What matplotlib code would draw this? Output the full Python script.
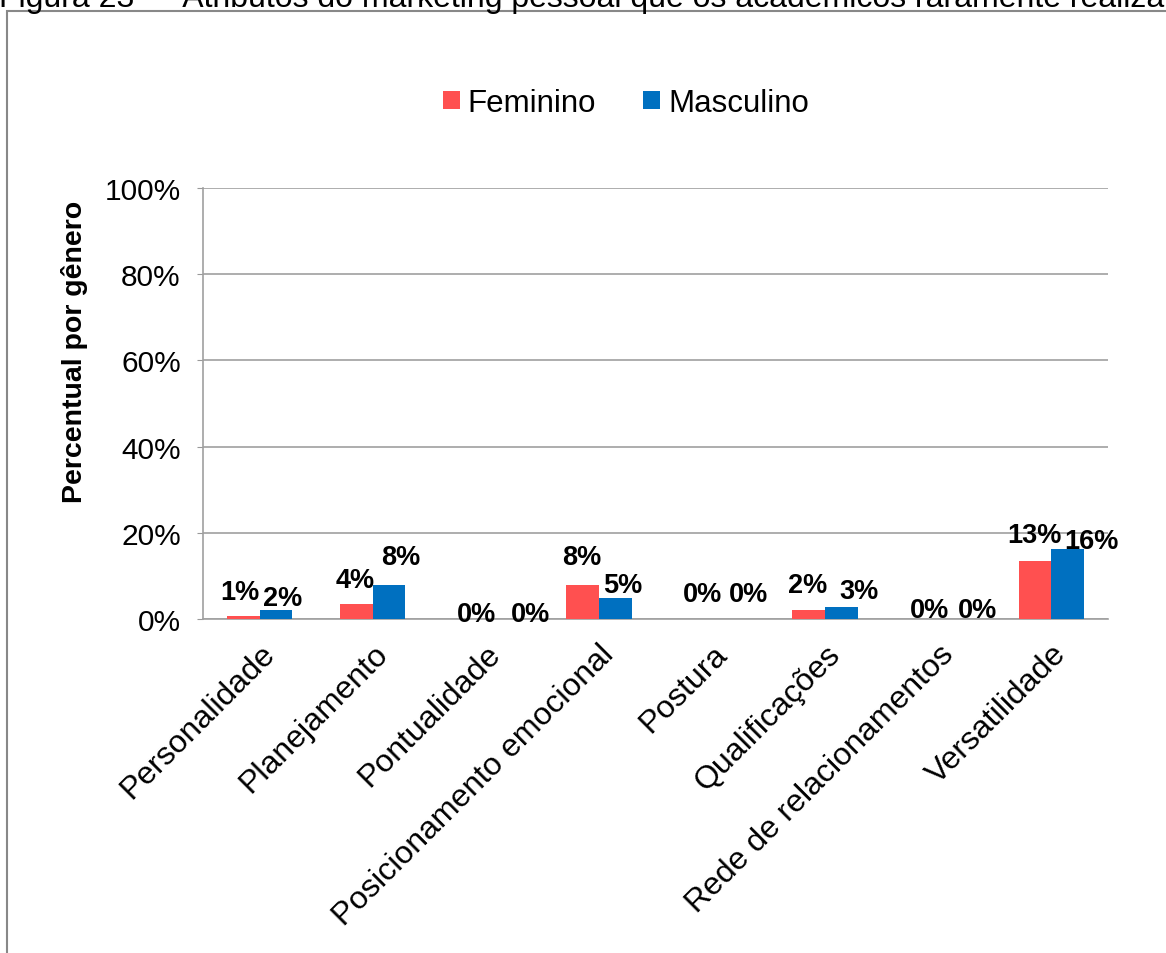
import matplotlib.pyplot as plt
import numpy as np
from matplotlib.patches import Rectangle

plt.rcParams['font.family'] = ['Liberation Sans', 'DejaVu Sans']

categorias = ['Personalidade', 'Planejamento', 'Pontualidade', 'Posicionamento emocional',
              'Postura', 'Qualificações', 'Rede de relacionamentos', 'Versatilidade']
feminino = [0.7, 3.5, 0.0, 7.8, 0.0, 2.1, 0.0, 13.5]
masculino = [2.2, 7.8, 0.0, 4.9, 0.0, 2.9, 0.0, 16.3]
rotulos_f = ['1%', '4%', '0%', '8%', '0%', '2%', '0%', '13%']
rotulos_m = ['2%', '8%', '0%', '5%', '0%', '3%', '0%', '16%']
yticks = [0, 20, 40, 60, 80, 100]

# deslocamento dos rotulos (pixels), como o Excel colocou
dx_f = [-3, -1, 7, -1, 7, -1, 8, -1]
dy_f = [17, 17, -2, 21, 18, 18, 2, 19]
dx_m = [7, 12, 28, 7, 20, 17, 23, 24]
dy_m = [5, 21, -2, 6, 18, 9, 2, 1]

cor_f = '#FF5050'
cor_m = '#0070C0'

fig = plt.figure(figsize=(11.66, 9.54), dpi=100)

# moldura cinza do grafico (cortada na direita e embaixo)
fig.patches.append(Rectangle((7/1166, -0.05), 1.2, 1 - 12/954 + 0.05, transform=fig.transFigure,
                             fill=False, edgecolor='#888888', linewidth=1.5))

# titulo cortado no topo
fig.text(-0.001, 1 - 7/954, 'Figura 23 — Atributos do marketing pessoal que os acadêmicos raramente realizam',
         fontsize=23, va='baseline', ha='left')

ax = fig.add_axes([203/1166, 1 - 620/954, 905/1166, 431/954])

x = np.arange(len(categorias))
w = 0.29
ax.bar(x - w/2, feminino, w, color=cor_f, label='Feminino', zorder=3)
ax.bar(x + w/2, masculino, w, color=cor_m, label='Masculino', zorder=3)

px = 0.72  # pixel -> ponto
for i in range(len(categorias)):
    ax.annotate(rotulos_f[i], (x[i] - w/2, feminino[i]), xytext=(dx_f[i]*px, dy_f[i]*px),
                textcoords='offset points', ha='center', va='baseline',
                fontsize=19.5, fontweight='bold', zorder=4)
    ax.annotate(rotulos_m[i], (x[i] + w/2, masculino[i]), xytext=(dx_m[i]*px, dy_m[i]*px),
                textcoords='offset points', ha='center', va='baseline',
                fontsize=19.5, fontweight='bold', zorder=4)

ax.set_xlim(-0.5, len(categorias) - 0.5)
ax.set_ylim(0, 100)
ax.set_yticks(yticks)
ax.set_yticklabels([f'{v}%' for v in yticks], fontsize=21.5)
ax.set_xticks(x)
ax.set_xticklabels(categorias, rotation=45, ha='right', rotation_mode='anchor', fontsize=23)
ax.tick_params(axis='x', length=0, pad=14)
ax.tick_params(axis='y', length=4, color='#999999', pad=12)
ax.grid(axis='y', color='#A0A0A0', linewidth=1.2, zorder=0)
ax.set_axisbelow(True)
for s in ['top', 'right']:
    ax.spines[s].set_visible(False)
for s in ['left', 'bottom']:
    ax.spines[s].set_color('#A0A0A0')
    ax.spines[s].set_linewidth(1.2)

ax.set_ylabel('Percentual por gênero', fontsize=20.5, fontweight='bold')
ax.yaxis.set_label_coords(-0.127, 0.622)

ax.legend(loc='center', bbox_to_anchor=(626/1166, 1 - 104/954), bbox_transform=fig.transFigure,
          ncol=2, frameon=False, fontsize=22.5, handlelength=0.55, handleheight=0.5,
          handletextpad=0.26, columnspacing=1.5)

fig.savefig('out.png', dpi=100)
